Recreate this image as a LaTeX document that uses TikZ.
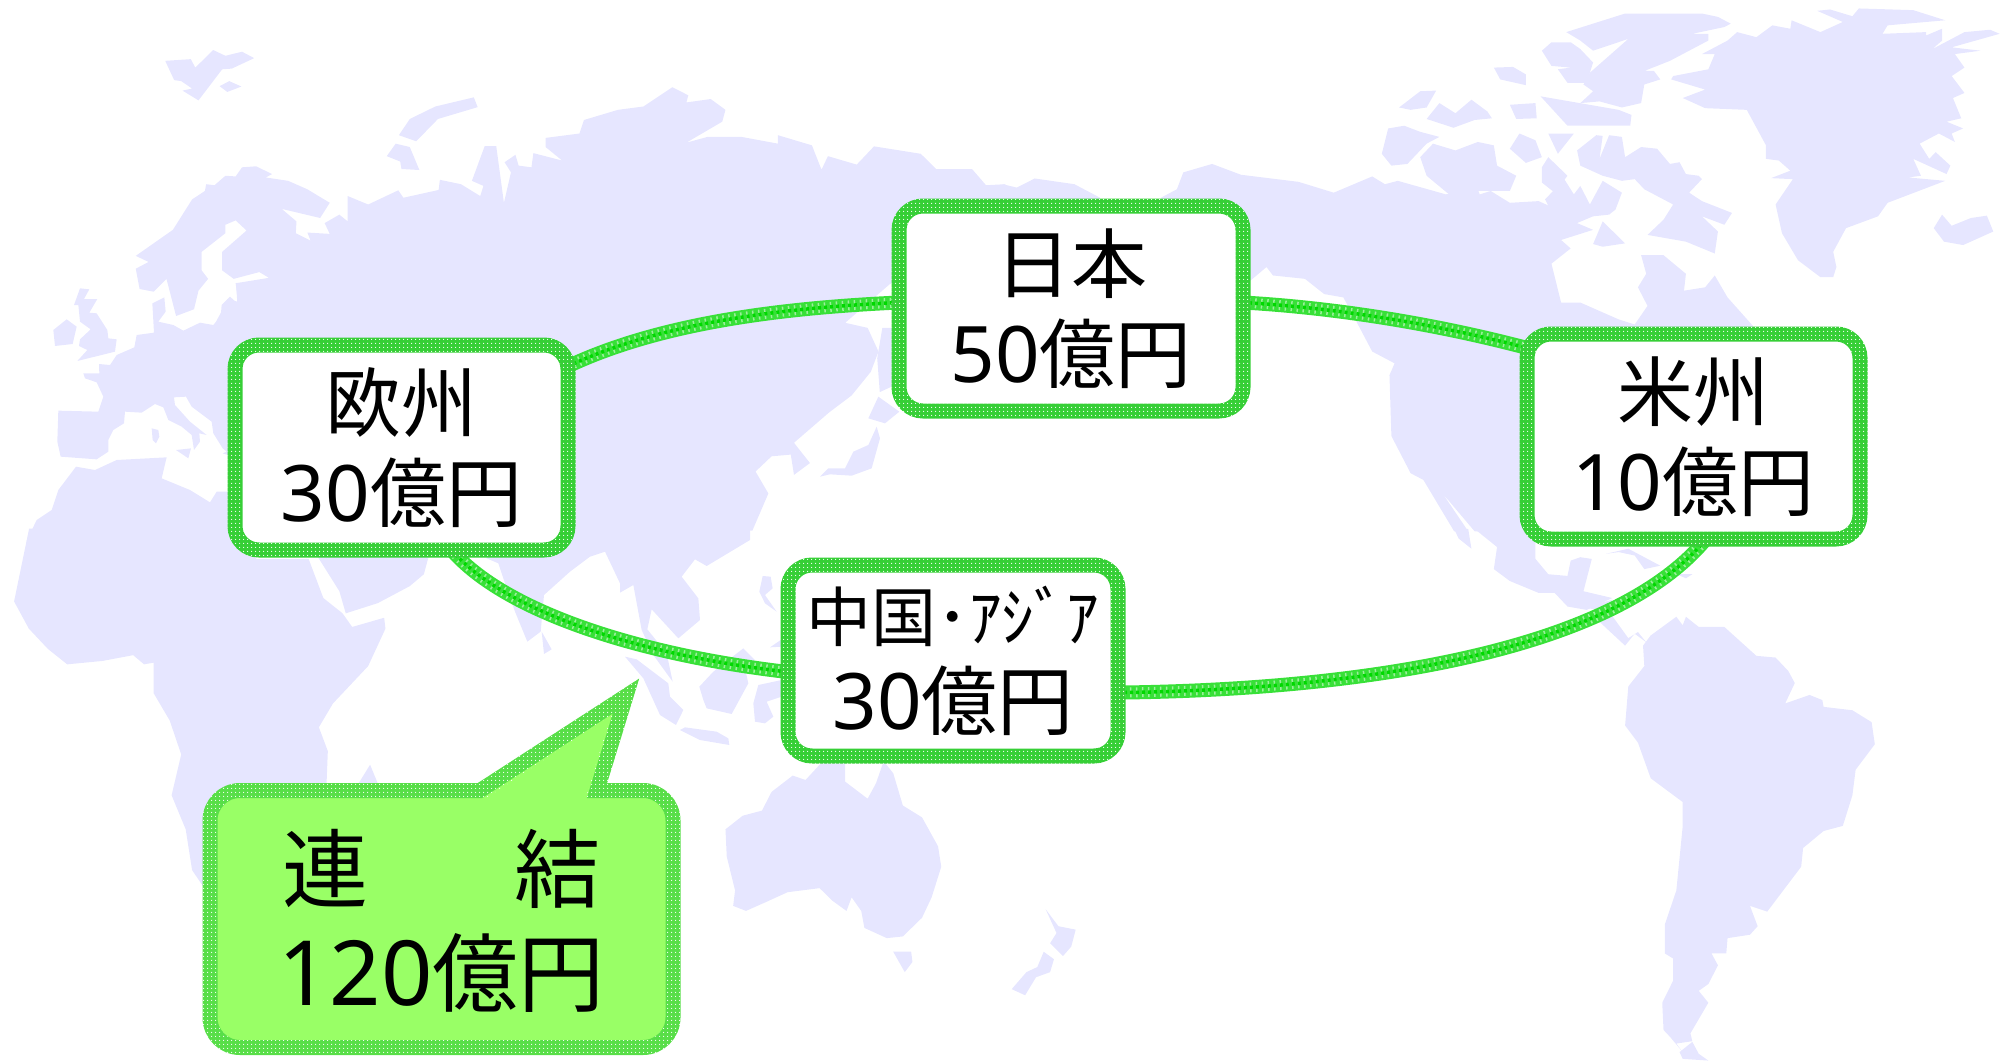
\documentclass[tikz,border=0pt]{standalone}
\usepackage{fontspec}
\setmainfont{Noto Sans}
\newfontfamily\cjk{Noto Sans CJK JP}
\usetikzlibrary{backgrounds,patterns.meta}
\definecolor{landc}{HTML}{E6E6FF}
\definecolor{boxgreen}{HTML}{36CF36}
\definecolor{calgreen}{HTML}{58DE48}
\definecolor{calfill}{HTML}{99FF66}
\definecolor{linkgreen}{HTML}{38E038}
\definecolor{linkdark}{HTML}{00D800}
\tikzset{
  land/.style={fill=landc,draw=none},
  q3/.style={shift={(0pt,0pt)},x=0.6403pt,y=-0.338pt},
  q4/.style={shift={(1004pt,0pt)},x=0.6403pt,y=-0.338pt},
  q5/.style={shift={(0pt,-530pt)},x=0.6403pt,y=-0.3401pt},
  q6/.style={shift={(1004pt,-530pt)},x=0.6403pt,y=-0.3401pt},
  z7/.style={shift={(0pt,-270pt)},x=0.33333pt,y=-0.33333pt},
  z8/.style={shift={(420pt,-540pt)},x=0.33333pt,y=-0.33333pt},
  z9/.style={shift={(800pt,-380pt)},x=0.33333pt,y=-0.33333pt},
  regionbox/.style={draw=boxgreen,line width=15pt,fill=white,rounded corners=24pt,
    inner sep=0pt,outer sep=0pt,align=center,text=black,
    font=\fontsize{76}{90}\selectfont},
  stip/.style={pattern={Dots[distance=4pt,radius=0.75pt]},pattern color=white,even odd rule},
  linkbase/.style={draw=linkgreen,line width=14pt},
  linktick/.style={draw=white,line width=10pt,dash pattern=on 1.5pt off 4.5pt,opacity=0.5},
  linkcore/.style={draw=linkdark,line width=3.5pt,dash pattern=on 3pt off 3pt},
}
\newcommand{\ring}[1]{%
  \fill[stip] [rounded corners=31pt] ([shift={(-7.5pt,-7.5pt)}]#1.south west) rectangle ([shift={(7.5pt,7.5pt)}]#1.north east)
   [rounded corners=16pt] ([shift={(7.5pt,7.5pt)}]#1.south west) rectangle ([shift={(-7.5pt,-7.5pt)}]#1.north east);}
\newcommand{\link}[1]{%
  \draw[linkbase] #1; \draw[linktick] #1; \draw[linkcore] #1;}
\newcommand{\dig}[1]{{\fontsize{78}{90}\selectfont #1}}
\begin{document}
\begin{tikzpicture}[x=1pt,y=-1pt]
\useasboundingbox (0,0) rectangle (2008,1063);
% ---- nodes
\node[regionbox,minimum width=333pt,minimum height=205pt] (eu) at (401.5,447.5)
  {\raisebox{-4pt}{\cjk 欧州}\\[1pt]\raisebox{-3pt}{\dig{30}{\cjk 億円}}};
\node[regionbox,minimum width=344pt,minimum height=205pt] (jp) at (1071,308.5)
  {{\cjk 日本}\\[-0.5pt]\dig{50}{\cjk 億円}};
\node[regionbox,minimum width=333pt,minimum height=205pt] (us) at (1693.5,436.5)
  {{\cjk 米州}\\[-0.5pt]\dig{10}{\cjk 億円}};
\node[regionbox,minimum width=330pt,minimum height=191pt] (cn) at (953,660.5)
  {{\cjk\fontsize{65}{80}\selectfont 中国･ｱｼﾞｱ}\\[-2pt]\dig{30}{\cjk 億円}};
\ring{eu}\ring{jp}\ring{us}\ring{cn}
% ---- callout
\path[draw=calgreen,line width=15pt,fill=calfill,miter limit=10]
  [sharp corners] (480,790.5) [rounded corners=30pt] -- (210,790.5) -- (210,1047.5) -- (673,1047.5) -- (673,790.5) [sharp corners] -- (597,790.5) -- (626,696) -- cycle;
\fill[stip]
  [sharp corners] (478,783) [rounded corners=37pt] -- (202.5,783) -- (202.5,1055) -- (680.5,1055) -- (680.5,783) [sharp corners] -- (609,783) -- (640.7,677) -- cycle
  (486.5,798) [rounded corners=22pt] -- (217.5,798) -- (217.5,1040) -- (665.5,1040) -- (665.5,798) [sharp corners] -- (585.6,798) -- (611,715) -- cycle;
\node[text=black,align=center,inner sep=0pt,font=\fontsize{86}{85}\selectfont] (tot) at (441.5,921)
  {{\cjk 連\hspace{146pt}結}\\[19pt]{\fontsize{90}{85}\selectfont 120}{\cjk 億円}};
% ---- map + connectors under the nodes
\begin{pgfonlayer}{background}
\begin{scope}[q3]
\fill[land] plot coordinates {(258,180)(298,175)(305,200)(333,148)(352,165)(378,153)(397,172)(362,203)(347,205)(310,297)(285,268)(300,262)(283,240)(272,237)} -- cycle;
\fill[land] plot coordinates {(343,255)(358,240)(377,256)(355,272)} -- cycle;
\fill[land] plot coordinates {(740,288)(746,317)(684,352)(650,418)(623,400)(640,352)(680,315)} -- cycle;
\fill[land] plot coordinates {(618,425)(640,435)(655,503)(627,500)(625,478)(604,462)} -- cycle;
\fill[land] plot coordinates {(212,757)(270,680)(300,590)(320,565)(322,545)(335,548)(352,520)(368,522)(378,495)(400,492)(425,515)(415,525)(450,535)(480,560)(515,600)(500,645)(440,618)(463,655)(462,690)(485,712)(480,688)(515,692)(507,660)(530,635)(543,655)(543,580)(575,605)(622,563)(630,585)(685,562)(687,532)(720,545)(750,580)(755,550)(737,535)(757,432)(775,432)(787,600)(798,510)(788,480)(805,458)(810,490)(830,495)(833,453)(878,475)(852,435)(852,408)(905,395)(912,355)(965,325)(1005,315)(1050,258)(1075,282)(1072,303)(1110,293)(1133,325)(1128,360)(1072,422)(1105,405)(1158,405)(1215,425)(1215,400)(1268,430)(1283,502)(1293,462)(1338,487)(1365,433)(1438,455)(1462,500)(1518,500)(1540,548)(1570,545)(1570,800)(1390,840)(1320,955)(1355,970)(1372,1040)(1360,1100)(1330,1170)(1295,1220)(1240,1310)(1265,1370)(1240,1405)(1235,1345)(1205,1350)(1180,1395)(1200,1460)(1175,1570)(360,1570)(360,1000)(335,960)(345,925)(355,885)(372,893)(368,838)(420,822)(405,805)(365,825)(347,800)(347,745)(385,682)(368,652)(352,665)(352,690)(315,745)(315,800)(325,825)(310,860)(303,915)(275,935)(260,825)(240,863)(218,855)(212,795)(232,775)} -- cycle;
\fill[land] plot coordinates {(1378,970)(1420,970)(1420,1120)(1374,1160)(1370,1060)} -- cycle;
\end{scope}
\begin{scope}[z7]
\fill[land] plot coordinates {(160,180)(200,148)(230,170)(218,222)(165,228)} -- cycle;
\fill[land] plot coordinates {(240,55)(268,58)(252,87)(292,87)(268,128)(290,130)(322,180)(325,205)(350,208)(345,245)(232,273)(262,240)(237,228)(240,208)(272,178)(240,155)(235,105)(222,105)} -- cycle;
\fill[land] plot coordinates {(708,38)(712,100)(690,80)(665,105)(662,140)(640,165)(600,158)(550,182)(520,165)(475,155)(497,125)(493,82)(457,100)(462,188)(410,195)(403,232)(350,255)(330,285)(297,282)(298,310)(250,310)(255,325)(290,337)(310,380)(295,425)(175,422)(172,515)(182,560)(290,568)(325,545)(325,510)(340,480)(372,460)(375,425)(425,428)(465,402)(490,412)(505,450)(545,470)(575,495)(582,540)(600,515)(598,490)(620,495)(570,455)(525,405)(522,382)(558,380)(575,410)(635,455)(640,490)(668,535)(680,545)(668,550)(700,560)(800,560)(800,100)} -- cycle;
\fill[land] plot coordinates {(528,540)(573,535)(565,565)} -- cycle;
\fill[land] plot coordinates {(455,475)(475,480)(478,500)(468,520)(458,510)} -- cycle;
\fill[land] plot coordinates {(80,812)(110,750)(155,720)(175,660)(228,590)(285,600)(350,570)(500,562)(485,625)(570,660)(630,697)(650,665)(800,665)(800,812)} -- cycle;
\end{scope}
\begin{scope}[q5]
\fill[land] plot coordinates {(45,0)(22,210)(45,290)(75,350)(105,395)(160,385)(208,368)(225,395)(240,390)(240,480)(265,560)(283,660)(268,780)(290,880)(300,1000)(318,1050)(400,1200)(510,900)(510,745)(512,650)(498,580)(520,510)(575,400)(602,290)(600,258)(550,285)(535,245)(505,200)(482,85)(400,85)(400,-4)(45,-4)} -- cycle;
\fill[land] plot coordinates {(490,60)(530,180)(540,245)(590,215)(640,165)(662,130)(672,60)} -- cycle;
\fill[land] plot coordinates {(578,690)(590,745)(560,745)} -- cycle;
% Australia
\fill[land] plot coordinates {(1133,880)(1160,840)(1190,825)(1205,770)(1238,722)(1258,735)(1285,680)(1320,680)(1320,740)(1355,790)(1368,745)(1380,680)(1395,715)(1410,810)(1440,845)(1465,930)(1470,990)(1455,1080)(1440,1140)(1410,1195)(1385,1200)(1350,1170)(1345,1120)(1330,1080)(1322,1120)(1300,1090)(1280,1053)(1230,1065)(1195,1095)(1165,1120)(1145,1105)(1148,1060)(1135,960)} -- cycle;
\fill[land] plot coordinates {(1395,1240)(1423,1240)(1425,1270)(1413,1300)} -- cycle;
\end{scope}
\begin{scope}[z8]
\fill[land] plot coordinates {(200,55)(235,70)(255,130)(285,215)(322,305)(362,275)(372,165)(450,95)(510,50)(555,35)(600,130)(600,158)(640,135)(665,270)(700,345)(758,425)(740,340)(682,268)(695,208)(775,295)(840,240)(835,175)(785,110)(825,58)(860,78)(990,0)(990,-32)(200,-32)} -- cycle;
\fill[land] plot coordinates {(365,275)(395,328)(372,342)} -- cycle;
\fill[land] plot coordinates {(615,350)(650,358)(745,430)(750,470)(790,510)(768,555)(720,525)(670,415)} -- cycle;
\fill[land] plot coordinates {(780,570)(795,562)(890,575)(925,595)(928,615)(840,600)} -- cycle;
\fill[land] plot coordinates {(838,440)(880,395)(970,325)(1005,360)(975,385)(985,430)(935,522)(860,505)(850,480)} -- cycle;
\fill[land] plot coordinates {(1015,435)(1085,420)(1085,470)(1040,485)(1060,530)(1035,550)(1005,545)(1000,490)} -- cycle;
\fill[land] plot coordinates {(1028,108)(1052,110)(1058,145)(1035,165)(1070,215)(1035,190)(1018,155)} -- cycle;
\fill[land] plot coordinates {(1085,298)(1050,322)(1085,320)} -- cycle;
\end{scope}
\begin{scope}[z9]
\fill[land] plot coordinates {(60,290)(85,265)(135,265)(160,215)(205,195)(230,140)(240,175)(215,265)(155,287)(90,283)} -- cycle;
\fill[land] plot coordinates {(205,115)(235,50)(298,95)(255,130)} -- cycle;
\end{scope}
\begin{scope}[q4]
\fill[land] plot coordinates {(-2,545)(20,555)(48,528)(110,545)(150,585)(150,800)(-2,800)} -- cycle;
\fill[land] plot coordinates {(245,585)(270,560)(280,510)(325,485)(370,517)(460,538)(515,570)(575,522)(595,545)(615,535)(690,575)(740,560)(750,612)(735,580)(760,565)(790,600)(835,595)(850,608)(845,590)(875,530)(890,575)(900,550)(915,605)(935,535)(965,570)(955,620)(945,635)(920,640)(895,660)(920,680)(870,710)(885,735)(855,780)(870,895)(900,895)(960,945)(985,960)(1005,905)(990,850)(1003,810)(995,755)(1030,755)(1065,810)(1062,860)(1095,850)(1110,815)(1130,880)(1170,965)(1170,1100)(830,1100)(830,1572)(735,1572)(685,1460)(725,1572)(703,1572)(655,1420)(635,1400)(605,1290)(602,1110)(610,1075)(575,1040)(550,950)(530,880)(500,870)(470,825)(420,815)(410,790)(385,830)(245,830)} -- cycle;
\fill[land] plot coordinates {(878,95)(970,40)(1090,40)(1115,50)(1135,70)(1125,80)(1075,100)(1100,100)(1100,120)(1040,180)(1000,210)(1015,210)(1025,235)(1000,250)(995,305)(965,318)(930,300)(900,305)(920,270)(905,250)(915,215)(975,115)(920,150)(900,120)} -- cycle;
\fill[land] plot coordinates {(855,125)(885,125)(900,145)(920,185)(910,245)(880,245)(865,205)(885,200)(855,195)(840,150)} -- cycle;
\fill[land] plot coordinates {(765,200)(795,198)(815,220)(815,252)(775,235)} -- cycle;
\fill[land] plot coordinates {(617,318)(650,270)(675,268)(660,318)(635,325)} -- cycle;
\fill[land] plot coordinates {(660,352)(680,305)(705,335)(730,295)(755,330)(762,350)(735,355)(702,378)} -- cycle;
\fill[land] plot coordinates {(790,310)(830,305)(832,350)(800,352)} -- cycle;
\fill[land] plot coordinates {(838,285)(960,325)(980,340)(978,372)(880,372)} -- cycle;
\fill[land] plot coordinates {(600,380)(625,372)(650,390)(680,405)(660,425)(630,485)(605,490)(590,455)} -- cycle;
\fill[land] plot coordinates {(650,465)(670,425)(705,445)(740,420)(765,430)(770,490)(800,520)(790,565)(735,565)(695,575)(660,520)} -- cycle;
\fill[land] plot coordinates {(805,395)(830,415)(840,465)(815,482)(790,440)} -- cycle;
\fill[land] plot coordinates {(850,395)(890,395)(865,455)} -- cycle;
\fill[land] plot coordinates {(895,445)(925,400)(935,402)(930,470)(945,400)(965,405)(970,465)(995,435)(1020,440)(1040,485)(1055,480)(1065,515)(1085,520)(1090,530)(1070,570)(1090,595)(1137,630)(1125,665)(1090,640)(1115,685)(1110,750)(1065,715)(1005,695)(1030,650)(1045,605)(1000,560)(985,530)(965,535)(935,520)(900,490)} -- cycle;
\fill[land] plot coordinates {(840,495)(850,465)(880,520)(860,570)(840,540)} -- cycle;
\fill[land] plot coordinates {(935,655)(970,720)(935,730)(920,722)} -- cycle;
\fill[land] plot coordinates {(1045,225)(1100,205)(1110,160)(1090,160)(1130,120)(1145,95)(1175,110)(1200,75)(1228,85)(1230,60)(1275,95)(1310,65)(1270,32)(1290,28)(1325,48)(1335,25)(1420,30)(1470,60)(1380,75)(1372,100)(1440,95)(1440,105)(1465,85)(1465,120)(1450,145)(1500,95)(1540,88)(1555,100)(1480,140)(1525,150)(1485,160)(1500,200)(1480,225)(1500,275)(1482,290)(1495,350)(1472,360)(1498,380)(1480,395)(1485,420)(1460,395)(1430,425)(1445,470)(1455,450)(1478,490)(1472,515)(1420,470)(1432,520)(1412,525)(1470,535)(1380,600)(1365,640)(1315,675)(1295,745)(1300,790)(1295,820)(1275,820)(1240,770)(1215,690)(1205,605)(1232,530)(1198,527)(1228,505)(1210,475)(1190,470)(1190,430)(1160,325)(1095,320)(1060,290)(1095,265)(1042,235)} -- cycle;
\fill[land] plot coordinates {(1452,675)(1465,635)(1480,668)(1510,645)(1535,638)(1545,685)(1498,725)(1468,715)} -- cycle;
\end{scope}
\begin{scope}[q6]
\fill[land] plot coordinates {(65,1115)(85,1165)(112,1175)(105,1225)(92,1253)(72,1215)(82,1185)} -- cycle;
\fill[land] plot coordinates {(62,1240)(78,1262)(72,1300)(50,1315)(33,1368)(12,1350)(35,1300)(52,1285)} -- cycle;
\fill[land] plot coordinates {(1050,255)(1060,280)(1065,255)(1085,285)(1125,285)(1175,370)(1205,375)(1225,415)(1235,450)(1220,510)(1258,485)(1278,500)(1280,520)(1325,530)(1355,565)(1360,630)(1330,705)(1325,780)(1310,870)(1280,885)(1248,935)(1245,990)(1192,1122)(1165,1105)(1177,1165)(1165,1190)(1130,1200)(1128,1245)(1105,1245)(1115,1280)(1100,1335)(1085,1355)(1100,1390)(1072,1480)(1075,1503)(1050,1510)(1060,1535)(1040,1490)(1030,1470)(1028,1390)(1045,1325)(1045,1260)(1032,1245)(1032,1160)(1050,1060)(1060,870)(1060,800)(1010,730)(990,625)(970,575)(975,460)(1000,400)(998,340)(1010,310)} -- cycle;
\fill[land] plot coordinates {(1075,1505)(1055,1535)(1060,1555)(1100,1560)(1085,1540)} -- cycle;
\fill[land] plot coordinates {(703,-3)(725,-3)(730,55)(710,25)} -- cycle;
\fill[land] plot coordinates {(735,-3)(770,50)(765,115)(790,150)(835,185)(860,185)(880,225)(910,235)(950,200)(905,180)(918,85)(900,80)(885,90)(880,135)(850,130)(830,85)(830,-3)} -- cycle;
\fill[land] plot coordinates {(905,228)(950,205)(930,270)(970,340)(985,305)(1003,330)(990,300)(975,318)(945,240)} -- cycle;
\fill[land] plot coordinates {(940,70)(975,55)(1000,80)(1025,105)(1000,115)(985,75)(960,65)} -- cycle;
\fill[land] plot coordinates {(1050,130)(1075,130)(1065,142)} -- cycle;
\end{scope}
% connectors
\link{(eu.26.4) .. controls (660,323) and (780,308) .. (jp.178)}
\link{(jp.2) .. controls (1340,308) and (1440,325) .. (us.152)}
\link{(eu.-64.2) .. controls (505,612) and (640,655) .. (cn.184.5)}
\link{(cn.-11.1) .. controls (1350,690) and (1610,655) .. (us.-83.6)}
\end{pgfonlayer}
\end{tikzpicture}
\end{document}
